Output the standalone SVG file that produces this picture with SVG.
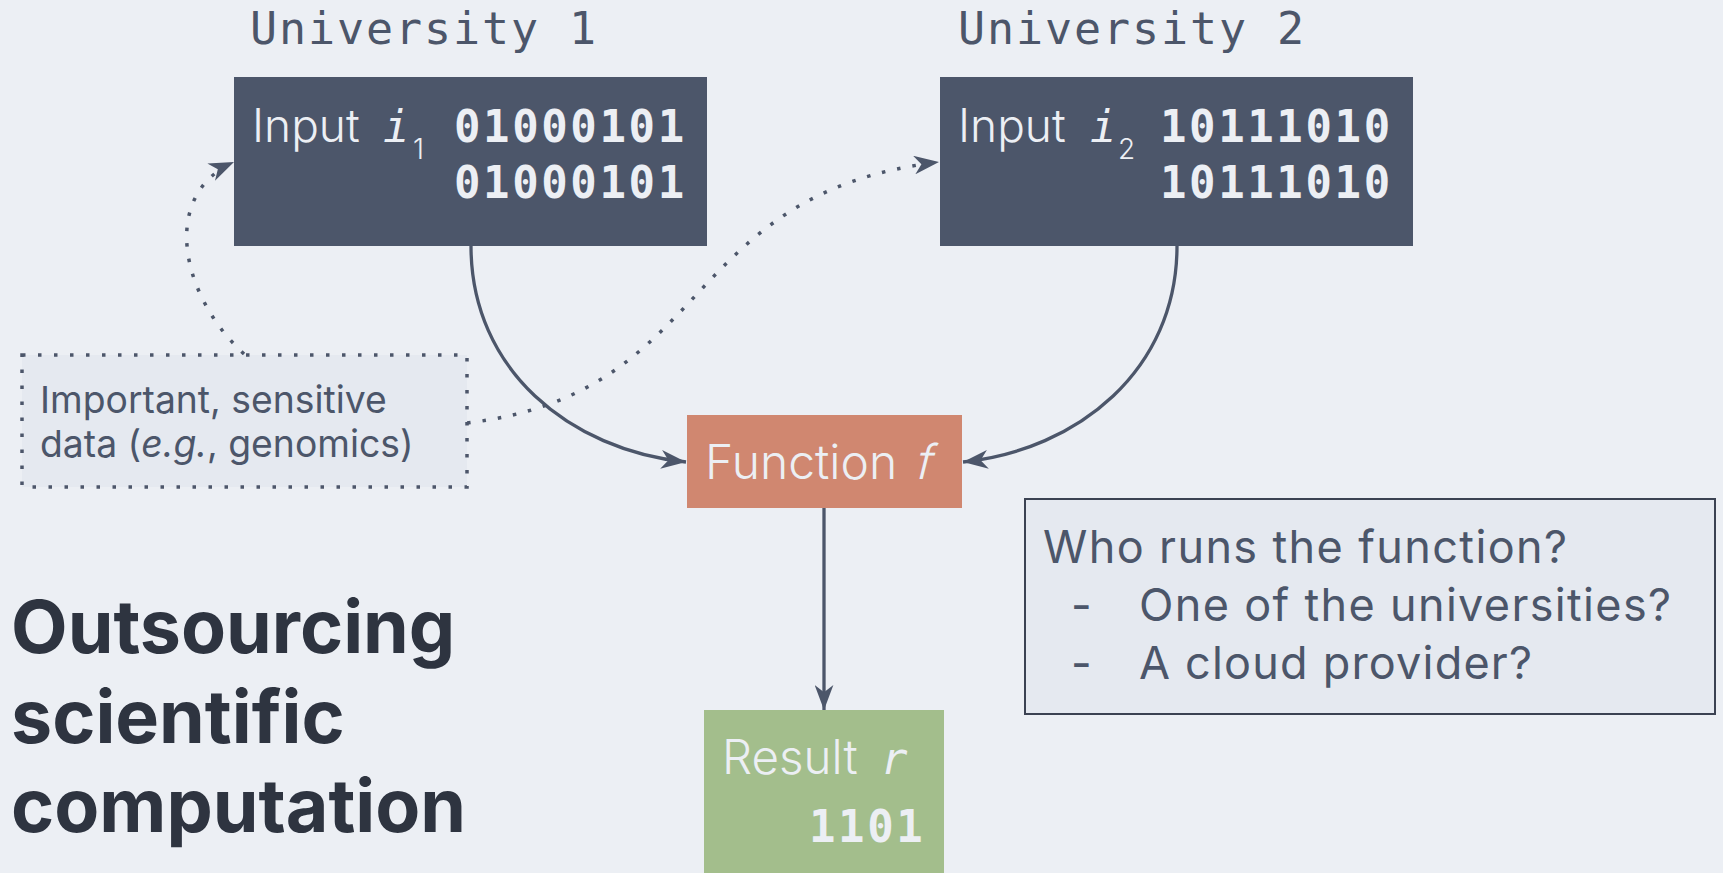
<svg xmlns="http://www.w3.org/2000/svg" width="1723" height="873" viewBox="0 0 1723 873">
  <style>
    .bg { fill: #ECEFF4; }
    .input { fill: #4C566A; }
    .func { fill: #D08770; }
    .result { fill: #A3BE8C; }
    .note { fill: #E5E9F0; stroke: #4C566A; stroke-width: 3.5; stroke-dasharray: 3.5 12.5; }
    .question { fill: #E5E9F0; stroke: #3B4252; stroke-width: 2; }
    .edge { fill: none; stroke: #4C566A; stroke-width: 3.3; }
    .dotted { fill: none; stroke: #4C566A; stroke-width: 3.5; stroke-dasharray: 3.5 12; }
    .mono { font-family: "DejaVu Sans Mono", "Liberation Mono", monospace; }
    .uni { font-size: 45px; fill: #4C566A; letter-spacing: 1.9px; }
    .bits { font-size: 44px; font-weight: bold; fill: #ECEFF4; letter-spacing: 2.6px; }
    .light { font-family: Inter, "Noto Sans", sans-serif; font-weight: 300; fill: #ECEFF4; }
    .var { font-style: italic; fill: #ECEFF4; }
    .body { font-family: Inter, "Noto Sans", sans-serif; font-size: 37.3px; fill: #4C566A; }
    .title { font-family: Inter, "Noto Sans", sans-serif; font-size: 73.5px; font-weight: 700; fill: #2E3440; }
    .q { font-family: Inter, "Noto Sans", sans-serif; font-size: 45px; fill: #4C566A; }
  </style>
  <defs>
    <marker id="head" viewBox="0 0 24 18" refX="24" refY="9" markerWidth="25" markerHeight="19" markerUnits="userSpaceOnUse" orient="auto">
      <path d="M0,0 L24,9 L0,18 L7,9 Z" fill="#4C566A"/>
    </marker>
  </defs>

  <rect class="bg" x="0" y="0" width="1723" height="873"/>

  <!-- connectors -->
  <g id="connectors">
    <path class="edge" d="M471,246 C471,370 570,450 686,462" marker-end="url(#head)"/>
    <path class="edge" d="M1177,246 C1177,370 1078,450 963,462" marker-end="url(#head)"/>
    <path class="edge" d="M824,508 L824,710" marker-end="url(#head)"/>
    <path class="dotted" d="M467,423 C717,393 675,194 939,162" marker-end="url(#head)"/>
    <path class="dotted" d="M244,354 C180,295 160,195 234,162" marker-end="url(#head)"/>
  </g>

  <!-- University 1 -->
  <g id="university1">
    <text class="mono uni" x="250" y="44">University 1</text>
    <rect class="input" x="234" y="77" width="473" height="169"/>
    <text class="light" x="252" y="142" font-size="46">Input</text>
    <text class="mono var" x="383" y="142" font-size="44">i</text>
    <text class="light" x="413" y="159" font-size="28">1</text>
    <text class="mono bits" x="454" y="142">01000101</text>
    <text class="mono bits" x="454" y="198">01000101</text>
  </g>

  <!-- University 2 -->
  <g id="university2">
    <text class="mono uni" x="958" y="44">University 2</text>
    <rect class="input" x="940" y="77" width="473" height="169"/>
    <text class="light" x="958" y="142" font-size="46">Input</text>
    <text class="mono var" x="1090" y="142" font-size="44">i</text>
    <text class="light" x="1118" y="159" font-size="28">2</text>
    <text class="mono bits" x="1160" y="142">10111010</text>
    <text class="mono bits" x="1160" y="198">10111010</text>
  </g>

  <!-- sensitive data note -->
  <g id="note">
    <rect class="note" x="22" y="355" width="445" height="132"/>
    <text class="body" x="40" y="413">Important, sensitive</text>
    <text class="body" x="40" y="457">data (<tspan font-style="italic">e.g.</tspan>, genomics)</text>
  </g>

  <!-- function -->
  <g id="function">
    <rect class="func" x="687" y="415" width="275" height="93"/>
    <text class="light" x="705" y="479" font-size="48">Function</text>
    <!-- slanted upright f, no descender -->
    <text class="light" transform="translate(914,479) skewX(-14)" x="0" y="0" font-size="48">f</text>
  </g>

  <!-- result -->
  <g id="result">
    <rect class="result" x="704" y="710" width="240" height="163"/>
    <text class="light" x="722" y="774" font-size="47.5">Result</text>
    <text class="mono var" x="881" y="774" font-size="44">r</text>
    <text class="mono bits" x="809" y="842">1101</text>
  </g>

  <!-- question -->
  <g id="question">
    <rect class="question" x="1025" y="499" width="690" height="215"/>
    <text class="q" x="1043" y="563" textLength="524">Who runs the function?</text>
    <text class="q" x="1071" y="621">-</text>
    <text class="q" x="1139" y="621" textLength="532">One of the universities?</text>
    <text class="q" x="1139" y="679" textLength="393">A cloud provider?</text>
    <text class="q" x="1071" y="679">-</text>
  </g>

  <!-- title -->
  <g id="title">
    <text class="title" x="11" y="653">Outsourcing</text>
    <text class="title" x="11" y="743">scientific</text>
    <text class="title" x="11" y="832">computation</text>
  </g>
</svg>
